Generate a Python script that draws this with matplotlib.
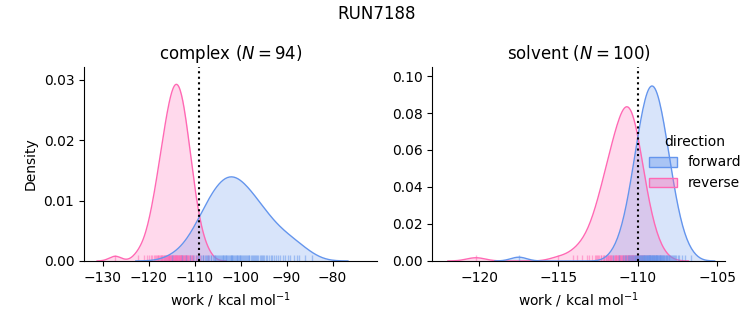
"""Forward/reverse work distributions for one RUN, complex vs solvent phase."""

import matplotlib.pyplot as plt
import numpy as np
from matplotlib.colors import to_rgba
from matplotlib.patches import Patch

run_name = "RUN7188"
phases = ["complex", "solvent"]
directions = ["forward", "reverse"]
colors = {"forward": "cornflowerblue", "reverse": "hotpink"}
n_label = {"complex": 94, "solvent": 100}
free_energy = {"complex": -109.1, "solvent": -110.0}

# work values (kcal/mol), reverse works already sign-flipped
complex_forward = [
    -115.0, -112.8, -111.8, -111.1, -110.4, -109.7,
    -109.4, -109.0, -108.6, -108.3, -108.1, -107.8,
    -107.6, -107.3, -107.1, -106.8, -106.5, -106.4, -106.1, -105.9,
    -105.7, -105.5, -105.3, -105.1, -104.9, -104.8, -104.5, -104.3, -104.1, -103.9,
    -103.8, -103.6, -103.4, -103.3, -103.2, -103.0, -102.8, -102.6, -102.4, -102.2, -102.1,
    -101.9, -101.8, -101.6, -101.5, -101.3, -101.1, -100.9, -100.7, -100.5, -100.3, -100.2,
    -100.1, -99.9, -99.7, -99.5, -99.3, -99.1, -98.8, -98.6, -98.5, -98.3,
    -98.1, -97.8, -97.6, -97.3, -97.0, -96.9, -96.7, -96.5,
    -96.2, -95.9, -95.6, -95.4, -95.1, -94.9, -94.6,
    -94.2, -93.9, -93.4, -93.1, -92.7,
    -92.3, -91.9, -91.4, -90.9,
    -90.3, -89.7, -89.2,
    -88.5, -87.8, -87.4,
    -86.0, -84.5,
]
complex_reverse = [
    -127.3,
    -122.4, -121.1, -120.4, -119.9, -119.5, -119.2, -118.9, -118.7, -118.5, -118.3,
    -118.1, -117.9, -117.8, -117.6, -117.4, -117.3, -117.2, -117.1, -116.9, -116.8,
    -116.7, -116.5, -116.4, -116.3, -116.2, -116.1, -116.0, -115.9, -115.8, -115.7,
    -115.6, -115.5, -115.5, -115.4, -115.3, -115.2, -115.1, -115.0, -114.9, -114.8,
    -114.7, -114.7, -114.6, -114.5, -114.4, -114.3, -114.2,
    -114.1, -114.1, -114.0, -113.9, -113.8, -113.8, -113.7, -113.6, -113.5, -113.4,
    -113.4, -113.3, -113.2, -113.1, -113.0, -112.9, -112.9, -112.8, -112.7, -112.6,
    -112.5, -112.4, -112.3, -112.2, -112.2, -112.0, -111.9, -111.8, -111.7, -111.6,
    -111.5, -111.4, -111.2, -111.1, -111.0, -110.8, -110.6, -110.5, -110.3, -110.1,
    -109.8, -109.5, -109.2, -108.8, -108.2, -107.1,
]
solvent_forward = [
    -117.5,
    -111.54, -111.16, -110.96, -110.82, -110.71, -110.61, -110.53, -110.46, -110.40, -110.34,
    -110.29, -110.23, -110.18, -110.15, -110.10, -110.06, -110.02, -109.98, -109.95, -109.91,
    -109.88, -109.84, -109.81, -109.78, -109.75, -109.72, -109.69, -109.66, -109.63, -109.60,
    -109.58, -109.55, -109.52, -109.50, -109.47, -109.44, -109.42, -109.39, -109.37, -109.35,
    -109.32, -109.29, -109.27, -109.24, -109.22, -109.20, -109.18, -109.15, -109.13, -109.10,
    -109.07, -109.05, -109.02, -109.00, -108.98, -108.96, -108.93, -108.91, -108.88, -108.85,
    -108.83, -108.81, -108.78, -108.76, -108.73, -108.70, -108.68, -108.65, -108.62, -108.60,
    -108.57, -108.54, -108.51, -108.48, -108.45, -108.42, -108.39, -108.36, -108.32, -108.29,
    -108.25, -108.22, -108.18, -108.14, -108.10, -108.05, -108.02, -107.97, -107.91, -107.86,
    -107.80, -107.74, -107.67, -107.59, -107.49, -107.38, -107.24, -107.04, -106.66,
]
solvent_reverse = [
    -120.2,
    -115.0, -114.1, -113.8, -113.5, -113.2, -113.1, -112.9, -112.7,
    -112.65, -112.58, -112.5, -112.42, -112.34,
    -112.3, -112.22, -112.14, -112.1, -112.02, -111.98, -111.94,
    -111.9, -111.86, -111.82, -111.78, -111.74, -111.7, -111.66, -111.62, -111.58,
    -111.5, -111.46, -111.42, -111.38, -111.36, -111.34, -111.3, -111.26, -111.22, -111.2,
    -111.18, -111.16,
    -111.12, -111.1, -111.06, -111.03, -111.0, -110.98, -110.94, -110.9, -110.87, -110.84,
    -110.82, -110.78, -110.76,
    -110.72, -110.7, -110.68, -110.64, -110.62, -110.6, -110.56, -110.54, -110.52, -110.48,
    -110.46, -110.44, -110.4, -110.38, -110.36, -110.34,
    -110.32, -110.3, -110.28, -110.24, -110.22, -110.2, -110.16, -110.14, -110.12, -110.08,
    -110.06, -110.04, -110.0, -109.97,
    -109.9, -109.86, -109.82, -109.76, -109.72, -109.66, -109.6, -109.56,
    -109.46, -109.38, -109.3, -109.22, -109.02, -108.82, -108.58,
]

works = {
    ("complex", "forward"): complex_forward,
    ("complex", "reverse"): complex_reverse,
    ("solvent", "forward"): solvent_forward,
    ("solvent", "reverse"): solvent_reverse,
}

xlims = {"complex": (-134.1, -70.4), "solvent": (-122.95, -104.5)}
ylims = {"complex": (0, 0.0321), "solvent": (0, 0.1049)}


def kde_curve(values, weight, gridsize=200, cut=3):
    """Gaussian KDE with Scott bandwidth, area scaled to `weight`."""
    x = np.asarray(values, dtype=float)
    bw = x.std(ddof=1) * len(x) ** (-1 / 5)
    grid = np.linspace(x.min() - cut * bw, x.max() + cut * bw, gridsize)
    z = (grid[:, None] - x[None, :]) / bw
    dens = np.exp(-0.5 * z**2).sum(axis=1) / (len(x) * bw * np.sqrt(2 * np.pi))
    return grid, dens * weight


n_total = sum(len(v) for v in works.values())

fig, axes = plt.subplots(1, 2, figsize=(7.53, 3.25), dpi=100)
fig.subplots_adjust(left=0.1116, right=0.9628, bottom=0.197, top=0.794, wspace=0.19)

for ax, phase in zip(axes, phases):
    # reverse first so forward sits on top, as seaborn does
    for direction in directions[::-1]:
        vals = works[(phase, direction)]
        c = colors[direction]
        grid, dens = kde_curve(vals, len(vals) / n_total)
        ax.fill_between(grid, dens, color=c, alpha=0.25, lw=0)
        ax.plot(grid, dens, color=c, lw=1)
        ax.vlines(vals, 0, 0.03, transform=ax.get_xaxis_transform(),
                  color=c, lw=1, alpha=0.5)
    ax.axvline(free_energy[phase], color="black", ls=":", lw=1.5)
    ax.set_xlim(*xlims[phase])
    ax.set_ylim(*ylims[phase])
    ax.set_title(f"{phase} ($N = {n_label[phase]}$)", fontsize=12)
    ax.set_xlabel("work / kcal mol$^{-1}$")
    ax.spines["top"].set_visible(False)
    ax.spines["right"].set_visible(False)

axes[0].set_ylabel("Density")

handles = [Patch(facecolor=to_rgba(colors[d], 0.4), edgecolor=colors[d], lw=1)
           for d in directions]
fig.legend(handles, directions, title="direction", loc="center left",
           bbox_to_anchor=(0.845, 0.5), frameon=False, fontsize=10, title_fontsize=10)
fig.suptitle(run_name, fontsize=12, y=0.985)

fig.savefig("out.png", dpi=100)
